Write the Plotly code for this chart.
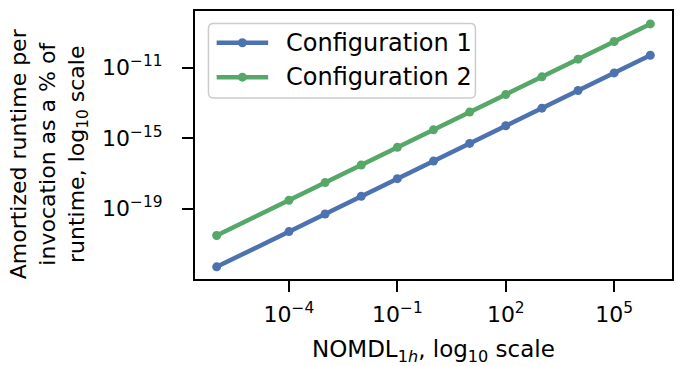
import plotly.graph_objects as go

# Data
nomdl = [1e-6, 1e-4, 1e-3, 1e-2, 1e-1, 1e0, 1e1, 1e2, 1e3, 1e4, 1e5, 1e6]
config1 = [5e-23, 5e-21, 5e-20, 5e-19, 5e-18, 5e-17, 5e-16, 5e-15, 5e-14, 5e-13, 5e-12, 5e-11]
config2 = [3e-21, 3e-19, 3e-18, 3e-17, 3e-16, 3e-15, 3e-14, 3e-13, 3e-12, 3e-11, 3e-10, 3e-9]
series_names = ["Configuration 1", "Configuration 2"]
colors = ["#4C72B0", "#55A868"]

x_tickvals = [1e-4, 1e-1, 1e2, 1e5]
x_ticktext = ["10<sup>−4</sup>", "10<sup>−1</sup>", "10<sup>2</sup>", "10<sup>5</sup>"]
y_tickvals = [1e-19, 1e-15, 1e-11]
y_ticktext = ["10<sup>−19</sup>", "10<sup>−15</sup>", "10<sup>−11</sup>"]

FONT = "DejaVu Sans"
FS = 22

W, H = 683, 366
ML, MR, MT, MB = 195, 10, 9, 87
PW, PH = W - ML - MR, H - MT - MB


def px_x(px):
    return (px - ML) / PW


def px_y(py):
    return (H - MB - py) / PH


fig = go.Figure()
for name, ys, c in zip(series_names, [config1, config2], colors):
    fig.add_trace(go.Scatter(
        x=nomdl, y=ys, mode="lines+markers", name=name,
        line=dict(color=c, width=4.5), marker=dict(color=c, size=9),
        showlegend=False,
    ))

axis_common = dict(
    showline=True, linecolor="black", linewidth=2, mirror=True,
    ticks="outside", ticklen=11, tickwidth=2, tickcolor="black",
    showgrid=False, zeroline=False,
    tickfont=dict(family=FONT, size=FS, color="black"),
)
fig.update_xaxes(type="log", range=[-6.6, 6.6], tickvals=x_tickvals, ticktext=x_ticktext,
                 ticklabelstandoff=4, **axis_common)
fig.update_yaxes(type="log", range=[-22.99, -7.79], tickvals=y_tickvals, ticktext=y_ticktext,
                 ticklabelstandoff=15, **axis_common)

fig.add_annotation(
    text="NOMDL<sub>1<i>h</i></sub>, log<sub>10</sub> scale",
    xref="paper", yref="paper", x=0.5, y=px_y(352), xanchor="center", yanchor="middle",
    showarrow=False, font=dict(family=FONT, size=23, color="black"),
)
fig.add_annotation(
    text="Amortized runtime per<br>invocation as a % of<br>runtime, log<sub>10</sub> scale",
    xref="paper", yref="paper", x=px_x(49), y=px_y(153), xanchor="center", yanchor="middle",
    textangle=-90, showarrow=False, align="center",
    font=dict(family=FONT, size=FS, color="black"),
)

# Legend (drawn as layout decoration, matplotlib style)
lx0, lx1, ly0, ly1, r = 208.5, 476, 21.7, 96.7, 5
rx, ry = r / PW, r / PH
X0, X1, Y0, Y1 = px_x(lx0), px_x(lx1), px_y(ly1), px_y(ly0)
path = (f"M{X0+rx},{Y0} L{X1-rx},{Y0} Q{X1},{Y0} {X1},{Y0+ry} L{X1},{Y1-ry} "
        f"Q{X1},{Y1} {X1-rx},{Y1} L{X0+rx},{Y1} Q{X0},{Y1} {X0},{Y1-ry} "
        f"L{X0},{Y0+ry} Q{X0},{Y0} {X0+rx},{Y0} Z")
fig.add_shape(type="path", path=path, xref="paper", yref="paper",
              fillcolor="rgba(255,255,255,0.8)", line=dict(color="#cccccc", width=1.5),
              layer="above")
for i, (name, c) in enumerate(zip(series_names, colors)):
    yc = 41 + i * 34.7
    fig.add_shape(type="line", xref="paper", yref="paper",
                  x0=px_x(216.7), x1=px_x(268.3), y0=px_y(yc), y1=px_y(yc),
                  line=dict(color=c, width=4.5), layer="above")
    fig.add_shape(type="circle", xref="paper", yref="paper",
                  x0=px_x(242.5 - 4.5), x1=px_x(242.5 + 4.5),
                  y0=px_y(yc + 4.5), y1=px_y(yc - 4.5),
                  fillcolor=c, line=dict(color=c, width=0), layer="above")
    fig.add_annotation(text=name, xref="paper", yref="paper",
                       x=px_x(284), y=px_y(yc), xanchor="left", yanchor="middle",
                       showarrow=False, font=dict(family=FONT, size=24, color="black"))

fig.update_layout(
    width=W, height=H,
    margin=dict(l=ML, r=MR, t=MT, b=MB),
    paper_bgcolor="white", plot_bgcolor="white",
    font=dict(family=FONT, size=FS, color="black"),
    showlegend=False,
)

fig.write_html("out.html")
